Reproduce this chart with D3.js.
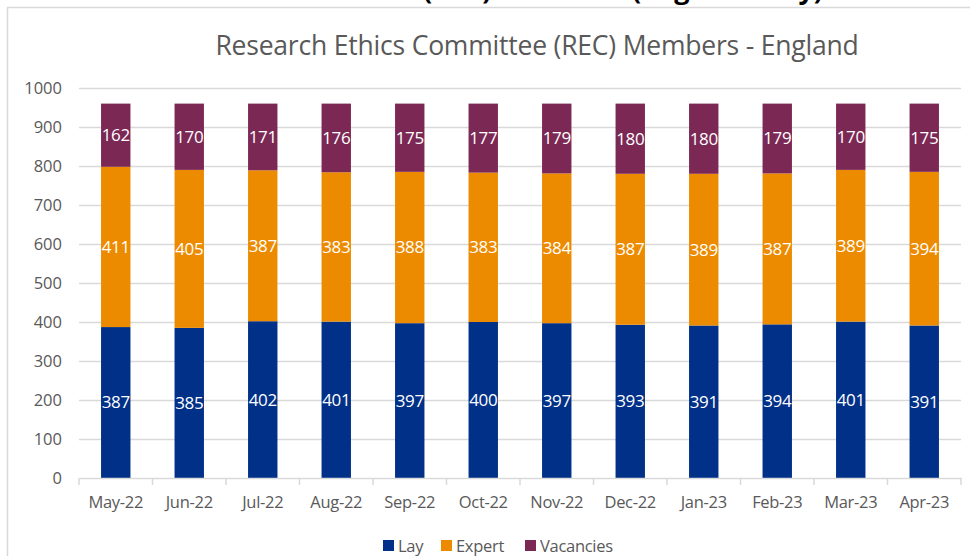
<!DOCTYPE html>
<html>
<head>
<meta charset="utf-8">
<script src="https://cdn.jsdelivr.net/npm/d3@7/dist/d3.min.js"></script>
<style>
  html, body { margin: 0; padding: 0; background: #ffffff; }
  svg { display: block; }
  text { font-family: "Open Sans", "Noto Sans", sans-serif; }
</style>
</head>
<body>
<svg id="chart" width="970" height="556"></svg>
<script>
// ---- data ----
const categories = ["May-22","Jun-22","Jul-22","Aug-22","Sep-22","Oct-22","Nov-22","Dec-22","Jan-23","Feb-23","Mar-23","Apr-23"];
const lay       = [387, 385, 402, 401, 397, 400, 397, 393, 391, 394, 401, 391];
const expert    = [411, 405, 387, 383, 388, 383, 384, 387, 389, 387, 389, 394];
const vacancies = [162, 170, 171, 176, 175, 177, 179, 180, 180, 179, 170, 175];
const seriesNames = ["Lay", "Expert", "Vacancies"];
const seriesColors = ["#003087", "#ED8B00", "#7C2855"];
const yTicks = [0, 100, 200, 300, 400, 500, 600, 700, 800, 900, 1000];
const chartTitle = "Research Ethics Committee (REC) Members - England";
const pageTitle = "Research Ethics Committee (REC) Members (England only)";

// ---- layout ----
const svg = d3.select("#chart");
const W = 970, H = 556;
const plot = { left: 79, right: 961, top: 88, bottom: 478 };

// outer page title (cropped at top of the view, as in the reference)
svg.append("text")
  .attr("x", 823).attr("y", -1)
  .attr("text-anchor", "end")
  .style("font-family", "'Open Sans', sans-serif")
  .style("font-weight", "700")
  .style("font-size", "27px")
  .attr("fill", "#000")
  .text(pageTitle);

// chart border
svg.append("rect")
  .attr("x", 7.5).attr("y", 7.5)
  .attr("width", W + 20).attr("height", H + 20)
  .attr("fill", "none")
  .attr("stroke", "#d9d9d9")
  .attr("stroke-width", 1.5);

const x = d3.scaleBand().domain(categories).range([plot.left, plot.right]).paddingInner(0.6).paddingOuter(0.3);
const y = d3.scaleLinear().domain([0, 1000]).range([plot.bottom, plot.top]);

// gridlines
svg.append("g").selectAll("line").data(yTicks.filter(d => d > 0)).join("line")
  .attr("x1", plot.left).attr("x2", plot.right)
  .attr("y1", d => y(d) + 0.5).attr("y2", d => y(d) + 0.5)
  .attr("stroke", "#d9d9d9").attr("stroke-width", 1.5);

// y axis labels
const yAxis = d3.axisLeft(y).tickValues(yTicks).tickFormat(d3.format("d")).tickSize(0).tickPadding(17);
const gy = svg.append("g").attr("transform", `translate(${plot.left},0)`).call(yAxis);
gy.select(".domain").remove();
gy.selectAll("text").attr("fill", "#595959").style("font-size", "16.5px").style("font-family", "'Open Sans', sans-serif");

// stacked data
const rows = categories.map((c, i) => ({ cat: c, Lay: lay[i], Expert: expert[i], Vacancies: vacancies[i] }));
const stack = d3.stack().keys(seriesNames)(rows);

const layers = svg.append("g").selectAll("g").data(stack).join("g")
  .attr("fill", (d, i) => seriesColors[i]);

layers.selectAll("rect").data(d => d).join("rect")
  .attr("x", d => x(d.data.cat))
  .attr("width", x.bandwidth())
  .attr("y", d => y(d[1]))
  .attr("height", d => y(d[0]) - y(d[1]));

// data labels
const labels = svg.append("g");
stack.forEach(layer => {
  labels.selectAll(null).data(layer).join("text")
    .attr("x", d => x(d.data.cat) + x.bandwidth() / 2)
    .attr("y", d => (y(d[0]) + y(d[1])) / 2)
    .attr("dy", "0.35em")
    .attr("text-anchor", "middle")
    .attr("fill", "#ffffff")
    .style("font-size", "17px")
    .style("letter-spacing", "-0.4px")
    .text(d => d[1] - d[0]);
});

// x axis
const xAxis = d3.axisBottom(x).tickSize(0).tickPadding(18);
const gx = svg.append("g").attr("transform", `translate(0,${plot.bottom})`).call(xAxis);
gx.select(".domain").attr("stroke", "#d9d9d9").attr("stroke-width", 1.5);
gx.selectAll("text").attr("fill", "#595959").style("font-size", "16.5px").style("letter-spacing", "-0.3px").style("font-family", "'Open Sans', sans-serif");
// category separator ticks
const tickPos = d3.range(categories.length + 1).map(i => plot.left + i * (plot.right - plot.left) / categories.length);
svg.append("g").selectAll("line").data(tickPos).join("line")
  .attr("x1", d => d).attr("x2", d => d)
  .attr("y1", plot.bottom).attr("y2", plot.bottom + 7)
  .attr("stroke", "#d9d9d9").attr("stroke-width", 1.5);

// chart title
svg.append("text")
  .attr("x", 537).attr("y", 55)
  .attr("text-anchor", "middle")
  .attr("fill", "#595959")
  .style("font-size", "26.5px")
  .style("letter-spacing", "-0.2px")
  .text(chartTitle);

// legend
const legendX = [383, 441, 525];
const lg = svg.append("g");
seriesNames.forEach((name, i) => {
  lg.append("rect").attr("x", legendX[i]).attr("y", 540).attr("width", 11).attr("height", 11).attr("fill", seriesColors[i]);
  lg.append("text").attr("x", legendX[i] + 15).attr("y", 552)
    .attr("fill", "#595959").style("font-size", "16.5px").style("letter-spacing", "-0.3px").text(name);
});
</script>
</body>
</html>
